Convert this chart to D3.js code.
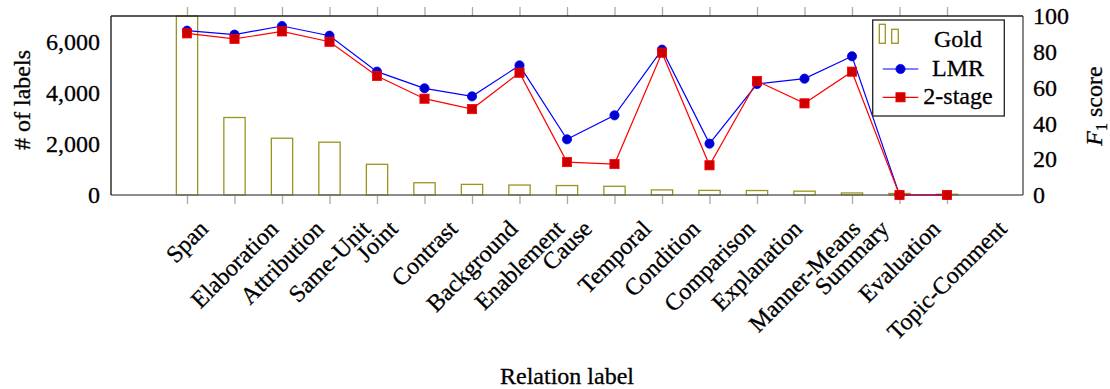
<!DOCTYPE html>
<html>
<head>
<meta charset="utf-8">
<script src="https://cdn.jsdelivr.net/npm/d3@7"></script>
<style>
  html, body { margin: 0; padding: 0; background: #fff; }
  svg { display: block; }
  text { font-family: "Liberation Serif", "Times New Roman", serif; fill: #000; stroke: #000; stroke-width: 0.3px; }
</style>
</head>
<body>
<svg id="chart" width="1110" height="389"></svg>
<script>
// Relation labels along the x axis
const categories = ["Span", "Elaboration", "Attribution", "Same-Unit", "Joint", "Contrast",
  "Background", "Enablement", "Cause", "Temporal", "Condition", "Comparison",
  "Explanation", "Manner-Means", "Summary", "Evaluation", "Topic-Comment"];

// Number of gold labels per relation (left axis)
const goldCounts = [7000, 3030, 2220, 2065, 1200, 480, 415, 390, 370, 340, 200, 180, 175, 150, 80, 60, 30];

// F1 scores (right axis)
const lmrF1 = [91.8, 89.6, 94.4, 89.0, 68.9, 59.6, 55.1, 72.4, 31.1, 44.5, 81.2, 28.7, 62.0, 65.0, 77.5, 0, 0];
const twoStageF1 = [90.3, 87.2, 91.4, 85.6, 66.5, 53.8, 48.0, 68.3, 18.4, 17.3, 79.5, 16.6, 63.7, 51.2, 68.9, 0, 0];

// Axis ticks
const countTicks = [0, 2000, 4000, 6000];
const f1Ticks = [0, 20, 40, 60, 80, 100];

const FONT = 24;
const plot = { left: 111, right: 1023, top: 16, bottom: 195 };

const svg = d3.select("#chart");

const x = d3.scalePoint().domain(categories).range([plot.left, plot.right]).padding(1.6);
const yCount = d3.scaleLinear().domain([0, 7000]).range([plot.bottom, plot.top]);
const yF1 = d3.scaleLinear().domain([0, 100]).range([plot.bottom, plot.top]);

const olive = "#9b9422";
const barW = 21.3;

// x ticks, top and bottom, outside the frame
const tickColor = "#aaa";
svg.append("g")
  .attr("transform", `translate(0,${plot.bottom})`)
  .call(d3.axisBottom(x).tickSize(9).tickFormat(""))
  .call(g => g.select(".domain").remove())
  .call(g => g.selectAll("line").attr("stroke", tickColor).attr("stroke-width", 1.3));
svg.append("g")
  .attr("transform", `translate(0,${plot.top})`)
  .call(d3.axisTop(x).tickSize(9).tickFormat(""))
  .call(g => g.select(".domain").remove())
  .call(g => g.selectAll("line").attr("stroke", tickColor).attr("stroke-width", 1.3));

// Gold label counts as hollow bars
svg.append("g").selectAll("rect")
  .data(categories)
  .join("rect")
  .attr("x", d => x(d) - barW / 2)
  .attr("y", (d, i) => yCount(goldCounts[i]))
  .attr("width", barW)
  .attr("height", (d, i) => yCount(0) - yCount(goldCounts[i]))
  .attr("fill", "none")
  .attr("stroke", olive)
  .attr("stroke-width", 1.3);

// Frame
svg.append("line").attr("x1", plot.left).attr("x2", plot.right).attr("y1", plot.bottom).attr("y2", plot.bottom)
  .attr("stroke", "#666").attr("stroke-width", 1.4);
svg.append("line").attr("x1", plot.right).attr("x2", plot.right).attr("y1", plot.top).attr("y2", plot.bottom)
  .attr("stroke", "#555").attr("stroke-width", 1.4);
svg.append("line").attr("x1", plot.left).attr("x2", plot.right).attr("y1", plot.top).attr("y2", plot.top)
  .attr("stroke", "#222").attr("stroke-width", 1.4);
svg.append("line").attr("x1", plot.left).attr("x2", plot.left).attr("y1", plot.top).attr("y2", plot.bottom)
  .attr("stroke", "#222").attr("stroke-width", 1.4);

// F1 series
function drawSeries(values, lineColor, markFill, shape) {
  const line = d3.line().x((d, i) => x(categories[i])).y(d => yF1(d));
  svg.append("path").datum(values)
    .attr("d", line)
    .attr("fill", "none")
    .attr("stroke", lineColor)
    .attr("stroke-width", 1.2);
  const g = svg.append("g");
  if (shape === "circle") {
    g.selectAll("circle").data(values).join("circle")
      .attr("cx", (d, i) => x(categories[i]))
      .attr("cy", d => yF1(d))
      .attr("r", 4.6)
      .attr("fill", markFill).attr("stroke", lineColor).attr("stroke-width", 0.8);
  } else {
    const s = 9.2;
    g.selectAll("rect").data(values).join("rect")
      .attr("x", (d, i) => x(categories[i]) - s / 2)
      .attr("y", d => yF1(d) - s / 2)
      .attr("width", s).attr("height", s)
      .attr("fill", markFill).attr("stroke", lineColor).attr("stroke-width", 0.8);
  }
}
drawSeries(lmrF1, "#0000ff", "#0000cc", "circle");
drawSeries(twoStageF1, "#ff0000", "#cc0000", "square");

// Left axis labels
svg.append("g")
  .attr("transform", `translate(${plot.left},0)`)
  .call(d3.axisLeft(yCount).tickValues(countTicks).tickSize(0).tickPadding(11).tickFormat(d3.format(",")))
  .call(g => g.select(".domain").remove())
  .call(g => g.selectAll("text").attr("font-size", FONT).attr("font-family", "Liberation Serif"));

// Right axis labels
svg.append("g")
  .attr("transform", `translate(${plot.right},0)`)
  .call(d3.axisRight(yF1).tickValues(f1Ticks).tickSize(0).tickPadding(10))
  .call(g => g.select(".domain").remove())
  .call(g => g.selectAll("text").attr("font-size", FONT).attr("font-family", "Liberation Serif"));

// Rotated category labels: centred on the tick, top edge aligned
const labelTop = 219;
const labels = svg.append("g");
categories.forEach(c => {
  const t = labels.append("text")
    .attr("font-size", FONT)
    .attr("text-anchor", "middle")
    .attr("dy", "0.33em")
    .text(c);
  const w = t.node().getComputedTextLength();
  const cy = labelTop + 0.3536 * w + 0.33 * FONT * 0.7071;
  t.attr("transform", `translate(${x(c)},${cy}) rotate(-45)`);
});

// Axis titles
svg.append("text")
  .attr("font-size", FONT)
  .attr("text-anchor", "middle")
  .attr("transform", "translate(30,100) rotate(-90)")
  .text("# of labels");

const f1Title = svg.append("text")
  .attr("font-size", FONT)
  .attr("text-anchor", "middle")
  .attr("transform", "translate(1102,106) rotate(-90)");
f1Title.append("tspan").attr("font-style", "italic").text("F");
f1Title.append("tspan").attr("font-size", 16).attr("dy", 5).text("1");
f1Title.append("tspan").attr("dy", -5).text(" score");

svg.append("text")
  .attr("font-size", FONT)
  .attr("text-anchor", "middle")
  .attr("x", (plot.left + plot.right) / 2)
  .attr("y", 384)
  .text("Relation label");

// Legend
const lg = svg.append("g");
lg.append("rect")
  .attr("x", 872.7).attr("y", 20).attr("width", 131.6).attr("height", 96)
  .attr("fill", "#fff").attr("stroke", "#222").attr("stroke-width", 1.3);
lg.append("rect").attr("x", 879.3).attr("y", 24.3).attr("width", 6).attr("height", 19)
  .attr("fill", "none").attr("stroke", olive).attr("stroke-width", 1.3);
lg.append("rect").attr("x", 891.7).attr("y", 29.3).attr("width", 6.6).attr("height", 14)
  .attr("fill", "none").attr("stroke", olive).attr("stroke-width", 1.3);
lg.append("text").attr("x", 958).attr("y", 46.7).attr("font-size", FONT).attr("text-anchor", "middle").text("Gold");

lg.append("line").attr("x1", 882.7).attr("x2", 918.3).attr("y1", 69).attr("y2", 69)
  .attr("stroke", "#0000ff").attr("stroke-width", 1.2);
lg.append("circle").attr("cx", 900.5).attr("cy", 69).attr("r", 4.6)
  .attr("fill", "#0000cc").attr("stroke", "#0000ff").attr("stroke-width", 0.8);
lg.append("text").attr("x", 958).attr("y", 76).attr("font-size", FONT).attr("text-anchor", "middle").text("LMR");

lg.append("line").attr("x1", 882.7).attr("x2", 918.3).attr("y1", 97.3).attr("y2", 97.3)
  .attr("stroke", "#ff0000").attr("stroke-width", 1.2);
lg.append("rect").attr("x", 900.5 - 4.6).attr("y", 97.3 - 4.6).attr("width", 9.2).attr("height", 9.2)
  .attr("fill", "#cc0000").attr("stroke", "#ff0000").attr("stroke-width", 0.8);
lg.append("text").attr("x", 958).attr("y", 103.5).attr("font-size", FONT).attr("text-anchor", "middle").text("2-stage");
</script>
</body>
</html>
